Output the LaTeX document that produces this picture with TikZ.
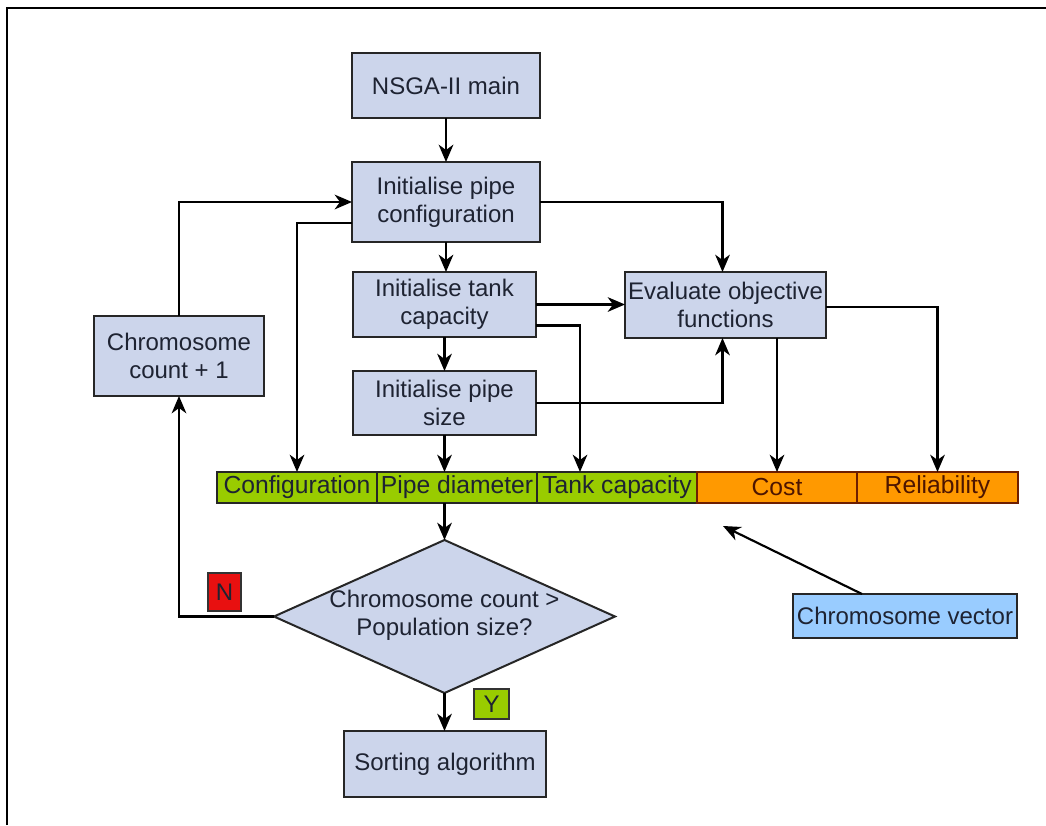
\documentclass[tikz,border=0pt]{standalone}
\usepackage{fontspec}
\setmainfont{Liberation Sans}
\usetikzlibrary{arrows.meta,shapes.geometric,calc}
\definecolor{boxfill}{RGB}{204,213,235}
\definecolor{limefill}{RGB}{153,204,0}
\definecolor{orangefill}{RGB}{255,153,0}
\definecolor{orangeline}{RGB}{110,30,0}
\definecolor{redfill}{RGB}{232,16,16}
\definecolor{vecfill}{RGB}{153,204,255}
\definecolor{inktext}{RGB}{30,35,50}
\begin{document}
\begin{tikzpicture}[x=0.75pt,y=-0.75pt,
  sz/.style 2 args={minimum width=#1*0.75pt,minimum height=#2*0.75pt},
  every node/.style={inner sep=0pt,outer sep=0pt,text=inktext,
    font=\fontsize{18}{21}\selectfont},
  procbox/.style={draw=black!85,line width=1.5pt,fill=boxfill,align=center},
  field/.style={draw=black!85,line width=1.2pt,fill=limefill,
    font=\fontsize{18.5}{21}\selectfont},
  objfield/.style={draw=orangeline,line width=1.2pt,fill=orangefill,
    text=orangeline!70!black,font=\fontsize{18.5}{21}\selectfont},
  decision/.style={draw=black!85,line width=1.5pt,fill=boxfill,diamond},
  tag/.style={draw=black!80,line width=1pt},
  link/.style={draw=black,line width=1.6pt},
  arr/.style={link,-{Stealth[length=13pt,width=11pt,inset=4pt]}}]
\useasboundingbox (0,0) rectangle (1046,825);

% page frame
\draw[line width=2.2pt] (7,825) -- (7,8) -- (1046,8);

% process boxes
\node[procbox,sz={188}{65}] (main)  at (446,85.5)   {NSGA-II main};
\node[procbox,sz={188}{80}] (cfg)   at (446,202)    {Initialise pipe\\configuration};
\node[procbox,sz={183}{65}] (tank)  at (444.5,304.5){Initialise tank\\capacity};
\node[procbox,sz={183}{64}] (size)  at (444.5,403)  {Initialise pipe\\size};
\node[procbox,sz={201}{66}] (eval)  at (725.5,305)  {Evaluate objective\\functions};
\node[procbox,sz={170}{80}] (count) at (179,356)    {Chromosome\\count + 1};
\node[procbox,sz={202}{66}] (sort)  at (445,764)    {Sorting algorithm};

% chromosome vector fields
\node[field,sz={160}{31}]    (conf) at (297,487.5)   {Configuration};
\node[field,sz={160}{31}]    (pdia) at (457,487.5)   {Pipe diameter};
\node[field,sz={160}{31}]    (tcap) at (617,487.5)   {Tank capacity};
\node[objfield,sz={160}{31}] (cost) at (777,487.5)   {Cost};
\node[objfield,sz={161}{31}] (rel)  at (937.5,487.5) {Reliability};

% decision
\node[decision,sz={341}{153}] (dec) at (444.5,616.5) {};
\node[align=center] (dectext) at (444.5,615) {Chromosome count >\\Population size?};

% branch tags
\node[tag,fill=redfill,sz={33}{38}]  (ntag) at (224.5,592) {N};
\node[tag,fill=limefill,sz={35}{30}] (ytag) at (491.5,704) {Y};

% legend box
\node[draw=black!85,line width=1.4pt,fill=vecfill,sz={224}{44}] (vec) at (905,616) {Chromosome vector};
\coordinate (vectip) at (723,526);

% main flow
\draw[arr] (main.south) -- (cfg.north);
\draw[arr] (cfg.south) -- (cfg.south |- tank.north);
\draw[arr] (tank.south) -- (size.south |- size.north);
\draw[arr] (size.south) -- (size.south |- pdia.north);
\draw[arr] (size.south |- pdia.south) -- (dec.north);
\draw[arr] (dec.south) -- (dec.south |- sort.north);

% loop back
\draw[arr] (dec.west) -| (count.south);
\draw[arr] (count.north) |- (cfg.west);

% initialisation to fields
\draw[arr] ($(cfg.west)+(0,21)$) -| (conf.north);
\draw[arr] ($(tank.east)+(0,21)$) -| ($(tcap.north)+(-37,0)$);

% evaluation inputs
\draw[arr] (cfg.east) -| ($(eval.north)+(-3,0)$);
\draw[arr] (tank.east) -- (tank.east -| eval.west);
\draw[arr] (size.east) -| ($(eval.south)+(-3,0)$);

% evaluation outputs
\draw[arr] (eval.south -| cost.north) -- (cost.north);
\draw[arr] ($(eval.east)+(0,2)$) -| (rel.north);

% legend pointer
\draw[arr] ($(vec.north)+(-43,0)$) -- (vectip);
\end{tikzpicture}
\end{document}
